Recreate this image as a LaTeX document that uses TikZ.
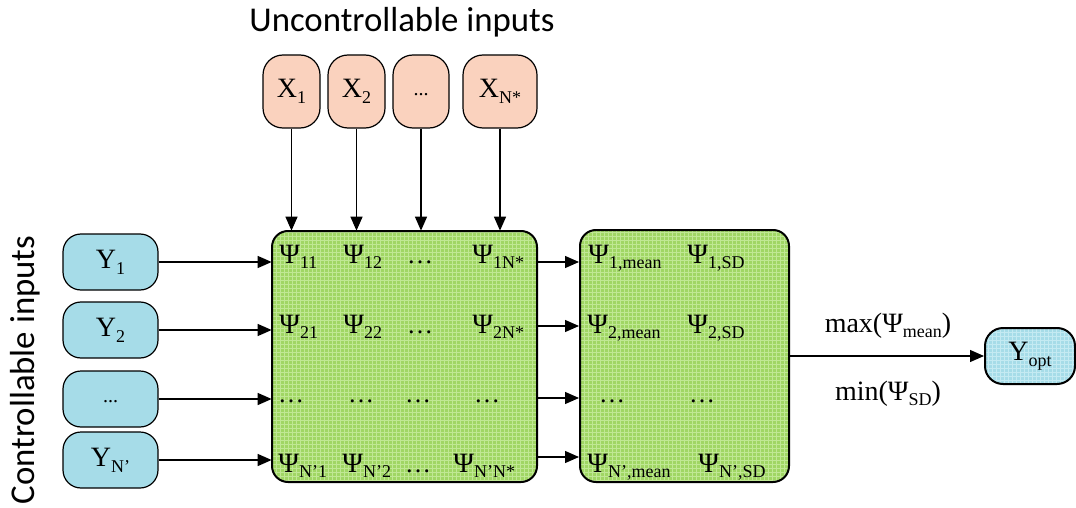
\documentclass[tikz,border=0pt]{standalone}
\usepackage{fontspec}
\setmainfont{Liberation Serif}
\newfontfamily\capfont{Carlito}
\usetikzlibrary{arrows.meta, patterns.meta}
\definecolor{peach}{RGB}{250,210,190}
\definecolor{skyblue}{RGB}{166,220,232}
\definecolor{gridblue}{RGB}{196,234,242}
\definecolor{leafgreen}{RGB}{160,214,100}
\definecolor{gridgreen}{RGB}{192,232,148}
\newcommand{\lowidx}[1]{\raisebox{-0.45ex}{\fontsize{9}{9}\selectfont #1}}

\begin{document}
\begin{tikzpicture}[x=0.5pt, y=-0.5pt, >={Triangle[length=7pt,width=6pt]},
  xbox/.style={draw, line width=0.6pt, rounded corners=10pt, fill=peach,
    minimum height=36.5pt, inner sep=0pt, font=\fontsize{14}{14}\selectfont},
  ybox/.style={draw, line width=0.6pt, rounded corners=9pt, fill=skyblue,
    minimum width=47.5pt, minimum height=28pt, inner sep=0pt,
    font=\fontsize{14}{14}\selectfont},
  bigbox/.style={draw, line width=1pt, rounded corners=8pt,
    preaction={fill=leafgreen},
    pattern={Hatch[angle=0, distance=2pt, line width=0.35pt]},
    pattern color=gridgreen},
  optbox/.style={draw, line width=1pt, rounded corners=9pt,
    preaction={fill=skyblue},
    pattern={Hatch[angle=0, distance=2pt, line width=0.35pt]},
    pattern color=gridblue, minimum width=45pt, minimum height=28pt,
    inner sep=0pt, font=\fontsize{14}{14}\selectfont},
  psi/.style={anchor=base west, inner sep=0pt, font=\fontsize{14}{14}\selectfont},
  dots/.style={anchor=base, inner sep=0pt, font=\fontsize{13}{13}\selectfont},
  caption/.style={font=\capfont\fontsize{17.4}{17.4}\selectfont},
  conn/.style={->, line width=0.65pt}]
  \useasboundingbox (0,0) rectangle (1076,508);

  % Captions
  \node[caption] (uncap) at (402,22) {Uncontrollable inputs};
  \node[caption, rotate=90] (concap) at (25,370) {Controllable inputs};

  % Uncontrollable inputs
  \node[xbox, minimum width=28.5pt] (x1) at (291.5,91.5) {X\lowidx{1}};
  \node[xbox, minimum width=28.5pt] (x2) at (356.5,91.5) {X\lowidx{2}};
  \node[xbox, minimum width=28pt] (xd) at (421,91.5) {\raisebox{-0.6ex}{\fontsize{10}{10}\selectfont ...}};
  \node[xbox, minimum width=37pt] (xn) at (500,91.5) {X\lowidx{N*}};

  % Controllable inputs
  \node[ybox] (y1) at (110.5,262) {Y\lowidx{1}};
  \node[ybox] (y2) at (110.5,330) {Y\lowidx{2}};
  \node[ybox] (yd) at (110.5,399) {\raisebox{-0.6ex}{\fontsize{10}{10}\selectfont ...}};
  \node[ybox] (yn) at (110.5,460) {Y\lowidx{N’}};

  % Response matrix and statistics
  \node[bigbox, minimum width=132.5pt, minimum height=125.5pt] (mat) at (404.5,356.5) {};
  \node[bigbox, minimum width=104.5pt, minimum height=126pt] (stat) at (684.5,356) {};

  % Optimum
  \node[optbox] (yopt) at (1030,356) {Y\lowidx{opt}};

  % Matrix entries
  \node[psi] (p11) at (279,263) {Ψ\lowidx{11}};
  \node[psi] (p12) at (343,263) {Ψ\lowidx{12}};
  \node[dots] (p1d) at (420,263) {…};
  \node[psi] (p1n) at (472,263) {Ψ\lowidx{1N*}};
  \node[psi] (p21) at (279,333) {Ψ\lowidx{21}};
  \node[psi] (p22) at (343,333) {Ψ\lowidx{22}};
  \node[dots] (p2d) at (420,333) {…};
  \node[psi] (p2n) at (472,333) {Ψ\lowidx{2N*}};
  \node[dots] (pd1) at (291,402) {…};
  \node[dots] (pd2) at (361,402) {…};
  \node[dots] (pd3) at (418,402) {…};
  \node[dots] (pd4) at (487,402) {…};
  \node[psi] (pn1) at (278,472) {Ψ\lowidx{N’1}};
  \node[psi] (pn2) at (342,472) {Ψ\lowidx{N’2}};
  \node[dots] (pnd) at (418,472) {…};
  \node[psi] (pnn) at (453,472) {Ψ\lowidx{N’N*}};

  % Statistics entries
  \node[psi] (m1) at (588,263) {Ψ\lowidx{1,mean}};
  \node[psi] (s1) at (687,263) {Ψ\lowidx{1,SD}};
  \node[psi] (m2) at (587,333) {Ψ\lowidx{2,mean}};
  \node[psi] (s2) at (687,333) {Ψ\lowidx{2,SD}};
  \node[dots] (md) at (612,402) {…};
  \node[dots] (sd) at (702,402) {…};
  \node[psi] (mn) at (587,472) {Ψ\lowidx{N’,mean}};
  \node[psi] (sn) at (698,472) {Ψ\lowidx{N’,SD}};

  % Objectives
  \node[psi, anchor=base] (maxlbl) at (888,332) {max(Ψ\lowidx{mean})};
  \node[psi, anchor=base] (minlbl) at (888,400) {min(Ψ\lowidx{SD})};

  % Connectors from inputs
  \draw[conn] (x1) -- (x1 |- mat.north);
  \draw[conn] (x2) -- (x2 |- mat.north);
  \draw[conn] (xd) -- (xd |- mat.north);
  \draw[conn] (xn) -- (xn |- mat.north);
  \draw[conn] (y1) -- (y1 -| mat.west);
  \draw[conn] (y2) -- (y2 -| mat.west);
  \draw[conn] (yd) -- (yd -| mat.west);
  \draw[conn] (yn) -- (yn -| mat.west);

  % Connectors between boxes
  \coordinate (r1) at (0,262);
  \coordinate (r2) at (0,326);
  \coordinate (r3) at (0,398);
  \coordinate (r4) at (0,457);
  \draw[conn] (mat.east |- r1) -- (stat.west |- r1);
  \draw[conn] (mat.east |- r2) -- (stat.west |- r2);
  \draw[conn] (mat.east |- r3) -- (stat.west |- r3);
  \draw[conn] (mat.east |- r4) -- (stat.west |- r4);
  \draw[conn] (stat) -- (yopt);
\end{tikzpicture}
\end{document}
